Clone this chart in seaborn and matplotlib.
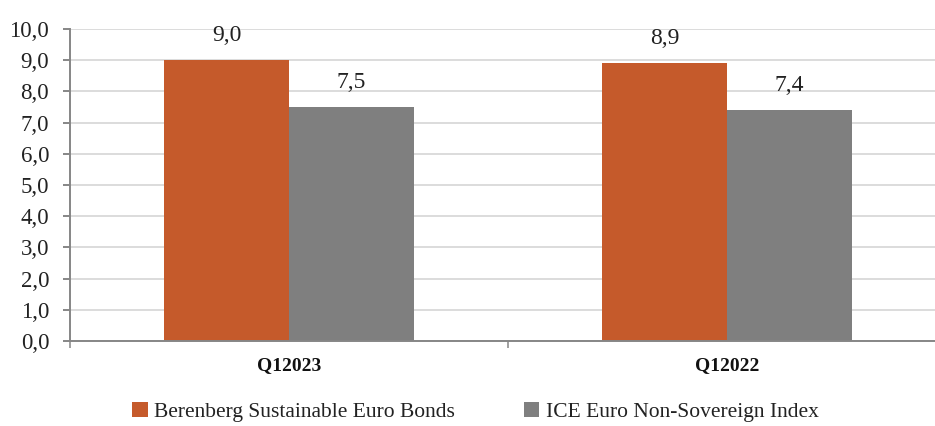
import matplotlib
matplotlib.use("Agg")
import matplotlib.pyplot as plt
import matplotlib.ticker as mticker
from matplotlib.patches import Patch
import pandas as pd
import seaborn as sns

quarters = ["Q12023", "Q12022"]
series_names = ["Berenberg Sustainable Euro Bonds", "ICE Euro Non-Sovereign Index"]
fund_values = [9.0, 8.9]
index_values = [7.5, 7.4]
colors = ["#C55A2B", "#7F7F7F"]

df = pd.DataFrame({
    "quarter": quarters * 2,
    "series": [series_names[0]] * 2 + [series_names[1]] * 2,
    "value": fund_values + index_values,
})

sns.set_theme(style="white")
plt.rcParams["font.family"] = ["Liberation Serif", "DejaVu Serif"]

fig = plt.figure(figsize=(9.35, 4.26), dpi=100)
ax = fig.add_axes([70 / 935, 1 - 341 / 426, 876 / 935, (341 - 29) / 426])

sns.barplot(data=df, x="quarter", y="value", hue="series", palette=colors,
            width=0.57, saturation=1, ax=ax, legend=False, errorbar=None)

for p in ax.patches:
    p.set_edgecolor("none")

ax.set_ylim(0, 10)
ax.set_xlim(-0.5, 1.5)
ax.yaxis.set_major_locator(mticker.MultipleLocator(1))
ax.yaxis.set_major_formatter(mticker.FuncFormatter(lambda v, _: f"{v:.1f}".replace(".", ",")))
ax.grid(axis="y", color="#D9D9D9", linewidth=1.3)
ax.set_axisbelow(True)

for side in ["top", "right"]:
    ax.spines[side].set_visible(False)
for side in ["left", "bottom"]:
    ax.spines[side].set_color("#868686")
    ax.spines[side].set_linewidth(1.4)

ax.tick_params(axis="y", left=True, length=5, width=1.4, color="#868686",
               labelsize=16.5, pad=10, labelcolor="#222222")
ax.set_xticks([-0.5, 0.5, 1.5])
ax.set_xticklabels([])
ax.tick_params(axis="x", bottom=True, length=5, width=1.1, color="#868686")
for i, q in enumerate(quarters):
    ax.text(i, -0.8, q, ha="center", va="center", fontsize=14,
            fontweight="bold", color="#111111")

ax.set_xlabel("")
ax.set_ylabel("")

for container in ax.containers:
    labels = [f"{b.get_height():.1f}".replace(".", ",") for b in container]
    ax.bar_label(container, labels=labels, padding=10, fontsize=17, color="#222222")

handles = [Patch(facecolor=c, edgecolor="none") for c in colors]
fig.legend(handles, series_names, loc="center left", bbox_to_anchor=(126 / 935, 1 - 412 / 426),
           ncol=2, frameon=False, fontsize=15.5, handlelength=0.7, handleheight=0.7,
           handletextpad=0.3, columnspacing=3.23, labelcolor="#222222",
           borderaxespad=0, borderpad=0.3)

fig.savefig("out.png", dpi=100)
